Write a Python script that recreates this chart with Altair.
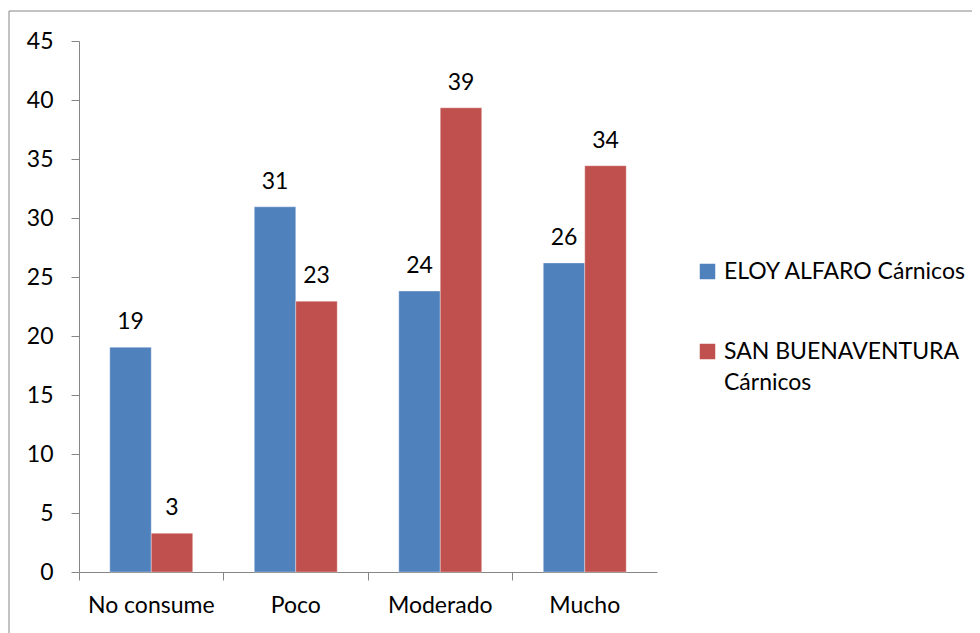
import altair as alt
import pandas as pd

categories = ["No consume", "Poco", "Moderado", "Mucho"]
series = ["ELOY ALFARO Cárnicos", "SAN BUENAVENTURA Cárnicos"]
eloy_values = [19.05, 30.95, 23.81, 26.19]
san_values = [3.28, 22.95, 39.34, 34.43]
y_ticks = [0, 5, 10, 15, 20, 25, 30, 35, 40, 45]
colors = ["#4F81BD", "#C0504D"]

rows = []
for c, v in zip(categories, eloy_values):
    rows.append({"cat": c, "serie": series[0], "val": v, "lab": str(round(v))})
for c, v in zip(categories, san_values):
    rows.append({"cat": c, "serie": series[1], "val": v, "lab": str(round(v))})
df = pd.DataFrame(rows)

FONT = "Lato"
FS = 23
PI = 0.426

x = alt.X("cat:N", sort=categories, title=None,
          scale=alt.Scale(paddingInner=PI, paddingOuter=PI / 2),
          axis=alt.Axis(labelAngle=0, bandPosition=-(PI / 2) / (1 - PI), tickSize=8,
                        labelPadding=14,
                        domainColor="#868686", tickColor="#868686",
                        labelFont=FONT, labelFontSize=FS, labelColor="#000000"))
y = alt.Y("val:Q", title=None,
          scale=alt.Scale(domain=[0, 45], nice=False),
          axis=alt.Axis(values=y_ticks, grid=False, tickSize=8, labelPadding=18,
                        domainColor="#868686", tickColor="#868686",
                        labelFont=FONT, labelFontSize=FS, labelColor="#000000"))
color = alt.Color("serie:N", sort=series, scale=alt.Scale(domain=series, range=colors),
                  legend=alt.Legend(title=None, orient="none", legendX=617, legendY=219,
                                    symbolType="square", symbolSize=240, symbolStrokeWidth=0,
                                    labelFont=FONT, labelFontSize=FS, labelColor="#000000",
                                    labelLimit=400, rowPadding=56, labelOffset=5,
                                    labelExpr="datum.label == 'SAN BUENAVENTURA Cárnicos' ? ['SAN BUENAVENTURA', 'Cárnicos'] : datum.label"))

bars = alt.Chart(df).mark_bar(stroke="#ffffff", strokeOpacity=0.35, strokeWidth=1).encode(
    x=x, xOffset=alt.XOffset("serie:N", sort=series), y=y, color=color)

labels = alt.Chart(df).mark_text(font=FONT, fontSize=FS, color="#000000", dy=-18,
                                 baseline="alphabetic").encode(
    x=x, xOffset=alt.XOffset("serie:N", sort=series), y=y, text="lab:N")

border = alt.Chart(pd.DataFrame({"k": [0]})).mark_rect(
    fill=None, stroke="#868686", strokeWidth=1).encode(
    x=alt.value(-70), x2=alt.value(898), y=alt.value(-30), y2=alt.value(640))

chart = alt.layer(border, bars, labels).properties(
    width=578, height=531,
    autosize=alt.AutoSizeParams(type="none"),
    padding={"left": 71, "top": 33, "right": 315, "bottom": 61},
).configure(
    background="#ffffff",
    style={"guide-label": {"lineHeight": 31}},
).configure_view(stroke=None)

chart.save("out.html", embed_options={"renderer": "svg", "actions": False})
